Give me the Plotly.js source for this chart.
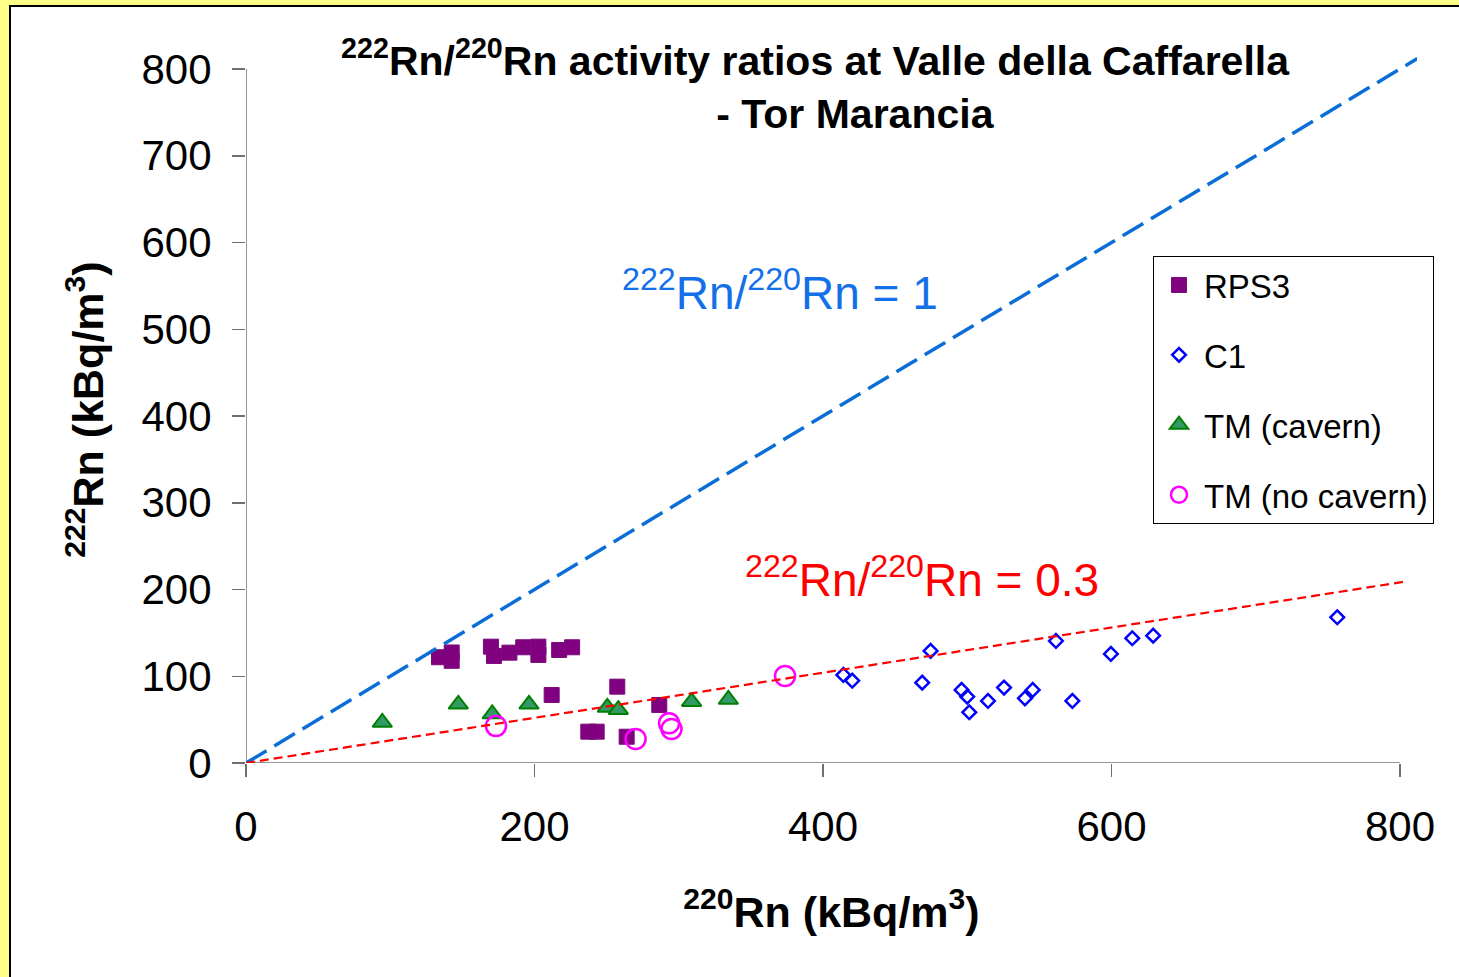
<!DOCTYPE html>
<html>
<head>
<meta charset="utf-8">
<script src="https://cdn.plot.ly/plotly-3.0.1.min.js"></script>
<style>
  html, body { margin: 0; padding: 0; width: 1459px; height: 977px; overflow: hidden; background: #FFFF88; }
  #frame { position: absolute; left: 9px; top: 5px; width: 1460px; height: 980px; background: #ffffff; border-left: 2px solid #000; border-top: 2px solid #000; }
  #chart { position: absolute; left: 0; top: 0; width: 1459px; height: 977px; }
</style>
</head>
<body>
<div id="frame"></div>
<div id="chart"></div>
<script>
// ---- data ----
const rps3X = [133.8, 142.6, 142.6, 169.8, 171.9, 182.6, 192.2, 202.7, 202.7, 217.1, 226.1, 211.9, 257.4, 237.3, 243.1, 263.9, 286.5];
const rps3Y = [121.9, 127.4, 117.8, 134.1, 123.4, 127.2, 133.4, 134.1, 124.6, 130.3, 133.4, 78.4, 88.0, 36.1, 36.1, 30.3, 66.9];

const c1X = [414.1, 420.3, 474.6, 468.8, 496.1, 500.0, 501.4, 514.4, 525.5, 540.0, 545.4, 561.5, 572.9, 599.6, 614.4, 628.9, 756.5];
const c1Y = [101.5, 94.9, 129.2, 92.6, 84.2, 76.5, 58.5, 71.5, 86.9, 74.6, 84.2, 140.7, 71.5, 125.7, 143.8, 146.8, 168.0];

const tmCavX = [94.5, 147.2, 170.7, 196.2, 250.5, 258.1, 308.9, 334.4];
const tmCavY = [46.7, 67.6, 56.5, 67.6, 64.0, 61.5, 70.7, 73.2];

const tmNoCavX = [173.3, 270.1, 293.3, 295.0, 373.7];
const tmNoCavY = [42.7, 27.7, 45.8, 39.2, 100.3];

const ratio1X = [0, 812];
const ratio1Y = [0, 812];
const ratio03X = [0, 803];
const ratio03Y = [0, 209];

const seriesNames = ["RPS3", "C1", "TM (cavern)", "TM (no cavern)"];
const xTicks = [0, 200, 400, 600, 800];
const yTicks = [0, 100, 200, 300, 400, 500, 600, 700, 800];

const FONT = "Liberation Sans, Arial, sans-serif";

const traces = [
  { x: rps3X, y: rps3Y, name: seriesNames[0], type: "scatter", mode: "markers", legendgroup: "g1",
    marker: { symbol: "square", size: 15, color: "#800080", line: { width: 1, color: "#7a0a7a" } } },
  { x: c1X, y: c1Y, name: seriesNames[1], type: "scatter", mode: "markers", legendgroup: "g2",
    marker: { symbol: "diamond-open", size: 10.5, color: "#0000FF", line: { width: 2.5, color: "#0000FF" } } },
  { x: tmCavX, y: tmCavY, name: seriesNames[2], type: "scatter", mode: "markers", legendgroup: "g3",
    marker: { symbol: "triangle-up", size: 17, color: "#339966", line: { width: 2, color: "#008000" } } },
  { x: tmNoCavX, y: tmNoCavY, name: seriesNames[3], type: "scatter", mode: "markers", legendgroup: "g4",
    marker: { symbol: "circle-open", size: 20, color: "#FF00FF", line: { width: 2.5, color: "#FF00FF" } } },
  { x: ratio1X, y: ratio1Y, type: "scatter", mode: "lines", showlegend: false, hoverinfo: "skip",
    line: { color: "#0A6ED6", width: 3.5, dash: "24px,9px" } },
  { x: ratio03X, y: ratio03Y, type: "scatter", mode: "lines", showlegend: false, hoverinfo: "skip",
    line: { color: "#FF0000", width: 2.2, dash: "9px,5px" } }
];

const NB = "\u00a0";
const layout = {
  width: 1459, height: 977,
  paper_bgcolor: "rgba(0,0,0,0)", plot_bgcolor: "rgba(0,0,0,0)",
  margin: { l: 246, r: 42, t: 56, b: 214, pad: 0 },
  font: { family: FONT, color: "#000" },
  title: {
    text: "<b><sup>222</sup>Rn/<sup>220</sup>Rn activity ratios at Valle della Caffarella<br>" + NB.repeat(7) + "- Tor Marancia</b>",
    font: { family: FONT, size: 41, color: "#000" },
    x: 815 / 1459, xref: "container", xanchor: "center",
    y: 1 - 75 / 977, yref: "container", yanchor: "top"
  },
  xaxis: {
    range: [0, 811.8], showgrid: false, zeroline: false, showline: false,
    tickmode: "array", tickvals: xTicks, ticktext: xTicks.map(String),
    ticks: "outside", ticklen: 13, tickwidth: 1.5, tickcolor: "#707070",
    ticklabelstandoff: 14,
    tickfont: { family: FONT, size: 42, color: "#000" },
    title: { text: "<b><sup>220</sup>Rn (kBq/m<sup>3</sup>)</b>", font: { family: FONT, size: 43, color: "#000" }, standoff: 47 },
    automargin: false
  },
  yaxis: {
    range: [0, 815], showgrid: false, zeroline: false, showline: false,
    tickmode: "array", tickvals: yTicks, ticktext: yTicks.map(String),
    ticks: "outside", ticklen: 13, tickwidth: 1.5, tickcolor: "#707070",
    ticklabelstandoff: 12,
    tickfont: { family: FONT, size: 42, color: "#000" },
    title: { text: "<b><sup>222</sup>Rn (kBq/m<sup>3</sup>)</b>", font: { family: FONT, size: 43, color: "#000" }, standoff: 24 },
    automargin: false
  },
  shapes: [
    { type: "line", xref: "x", yref: "y", x0: 0, x1: xTicks[xTicks.length - 1], y0: 0, y1: 0, line: { color: "#707070", width: 1.5 }, layer: "below" },
    { type: "line", xref: "x", yref: "y", x0: 0, x1: 0, y0: 0, y1: yTicks[yTicks.length - 1], line: { color: "#707070", width: 1.5 }, layer: "below" }
  ],
  annotations: [
    { text: "<sup>222</sup>Rn/<sup>220</sup>Rn = 1", xref: "paper", yref: "paper", x: (780 - 246) / 1171, y: (763 - 290) / 707,
      xanchor: "center", yanchor: "middle", showarrow: false, font: { family: FONT, size: 46, color: "#1470E8" } },
    { text: "<sup>222</sup>Rn/<sup>220</sup>Rn = 0.3", xref: "paper", yref: "paper", x: (922 - 246) / 1171, y: (763 - 577) / 707,
      xanchor: "center", yanchor: "middle", showarrow: false, font: { family: FONT, size: 46, color: "#FF0000" } }
  ],
  legend: {
    x: (1153 - 246) / 1171, y: (763 - 256) / 707, xanchor: "left", yanchor: "top",
    bgcolor: "#ffffff", bordercolor: "#000", borderwidth: 1,
    font: { family: FONT, size: 33, color: "#000" },
    itemwidth: 40, entrywidth: 232, entrywidthmode: "pixels",
    traceorder: "grouped", tracegroupgap: 24
  },
  showlegend: true
};

Plotly.newPlot("chart", traces, layout, { displayModeBar: false, staticPlot: true });
</script>
</body>
</html>
